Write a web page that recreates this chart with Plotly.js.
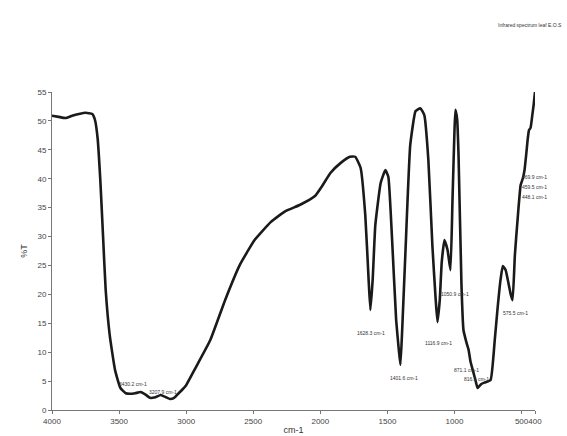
<!DOCTYPE html>
<html>
<head>
<meta charset="utf-8">
<script src="https://cdn.plot.ly/plotly-3.0.1.min.js"></script>
<style>html,body{margin:0;padding:0;background:#fff;}#chart{width:567px;height:436px;}</style>
</head>
<body>
<div id="chart"></div>
<script>
// Wavenumber (cm-1) and transmittance (%T)
const wavenumber = [4000, 3950, 3900, 3850, 3800, 3750, 3700, 3680, 3660, 3640, 3620, 3600, 3570, 3530, 3490, 3450, 3420, 3380, 3340, 3300, 3270, 3230, 3190, 3150, 3120, 3090, 3060, 3030, 3000, 2930, 2820, 2710, 2600, 2490, 2370, 2260, 2150, 2040, 1985, 1925, 1850, 1780, 1740, 1700, 1665, 1640, 1627, 1610, 1590, 1550, 1515, 1493, 1465, 1435, 1415, 1403, 1390, 1365, 1330, 1290, 1255, 1225, 1195, 1165, 1140, 1127, 1110, 1095, 1075, 1052, 1030, 1015, 1000, 993, 980, 970, 948, 933, 910, 895, 880, 860, 840, 828, 800, 770, 731, 700, 680, 657, 640, 619, 595, 580, 567, 550, 530, 507, 490, 478, 466, 455, 445, 433, 420, 410, 400];
const transmittance = [50.9, 50.7, 50.5, 50.9, 51.2, 51.4, 51.2, 50.2, 47.0, 39.8, 30.3, 20.8, 13.0, 6.9, 3.8, 2.9, 2.8, 2.9, 3.1, 2.6, 2.1, 2.2, 2.6, 2.2, 1.9, 2.1, 2.8, 3.5, 4.3, 7.3, 12.1, 19.0, 25.1, 29.4, 32.5, 34.4, 35.5, 37.0, 38.8, 41.0, 42.7, 43.8, 43.8, 41.9, 33.7, 22.5, 17.3, 22.5, 32.0, 39.3, 41.5, 40.3, 29.4, 15.6, 10.4, 7.8, 13.8, 27.7, 45.8, 51.7, 52.2, 51.0, 43.3, 28.5, 19.0, 15.2, 19.0, 25.6, 29.4, 27.7, 24.2, 36.3, 48.4, 51.9, 50.2, 44.1, 21.6, 13.8, 11.6, 10.4, 8.3, 6.6, 4.8, 3.8, 4.5, 4.8, 5.2, 12.1, 17.3, 22.5, 24.9, 24.2, 21.6, 19.9, 19.0, 26.8, 32.9, 38.9, 40.1, 41.5, 44.1, 46.7, 48.4, 48.8, 51.0, 52.8, 55.0];

const xTickVals = [4000, 3500, 3000, 2500, 2000, 1500, 1000, 500, 400];
const xTickText = ['4000', '3500', '3000', '2500', '2000', '1500', '1000', '500', '400'];
const yTickVals = [0, 5, 10, 15, 20, 25, 30, 35, 40, 45, 50, 55];

const peakLabels = ['3430.2 cm-1', '3207.9 cm-1', '1628.3 cm-1', '1401.6 cm-1', '1116.9 cm-1', '1050.9 cm-1', '871.1 cm-1', '816.6 cm-1', '575.5 cm-1', '469.9 cm-1', '459.5 cm-1', '448.1 cm-1'];

const labelPos = [
  [3396, 4.5], [3172, 3.1], [1619, 13.3], [1373, 5.5], [1119, 11.6], [1000, 20.0],
  [910, 6.9], [836, 5.4], [545, 16.8], [402, 40.3], [402, 38.6], [402, 36.9]
];

const annotations = peakLabels.map((t, i) => ({
  x: labelPos[i][0], y: labelPos[i][1], xref: 'x', yref: 'y', text: t,
  showarrow: false, font: {family: 'Liberation Sans, Arial', size: 5, color: '#333'}
}));
annotations.push({
  xref: 'paper', yref: 'paper', x: 1.06, y: 1.225, xanchor: 'right', text: 'Infrared spectrum leaf E.O.S',
  showarrow: false, font: {family: 'Liberation Sans, Arial', size: 5, color: '#333'}
});

const trace = {
  x: wavenumber, y: transmittance, type: 'scatter', mode: 'lines',
  line: {color: '#1a1a1a', width: 2.6, shape: 'spline', smoothing: 0.4}
};

const layout = {
  width: 567, height: 436,
  margin: {l: 52, r: 32, t: 92, b: 26},
  paper_bgcolor: '#fff', plot_bgcolor: '#fff',
  showlegend: false,
  xaxis: {
    range: [4000, 400], tickvals: xTickVals, ticktext: xTickText, tickangle: 0,
    showgrid: false, zeroline: false, showline: true, linecolor: '#777', linewidth: 1,
    ticks: 'outside', ticklen: 3, tickcolor: '#777',
    tickfont: {family: 'Liberation Sans, Arial', size: 8, color: '#444'},
    title: {text: 'cm-1', font: {family: 'Liberation Sans, Arial', size: 9, color: '#333'}, standoff: 2}
  },
  yaxis: {
    range: [0, 55], tickvals: yTickVals,
    showgrid: false, zeroline: false, showline: true, linecolor: '#777', linewidth: 1,
    ticks: 'outside', ticklen: 3, tickcolor: '#777',
    tickfont: {family: 'Liberation Sans, Arial', size: 8, color: '#444'},
    title: {text: '%T', font: {family: 'Liberation Sans, Arial', size: 9, color: '#333'}, standoff: 8}
  },
  annotations: annotations
};

Plotly.newPlot('chart', [trace], layout, {displayModeBar: false, staticPlot: true});
</script>
</body>
</html>
